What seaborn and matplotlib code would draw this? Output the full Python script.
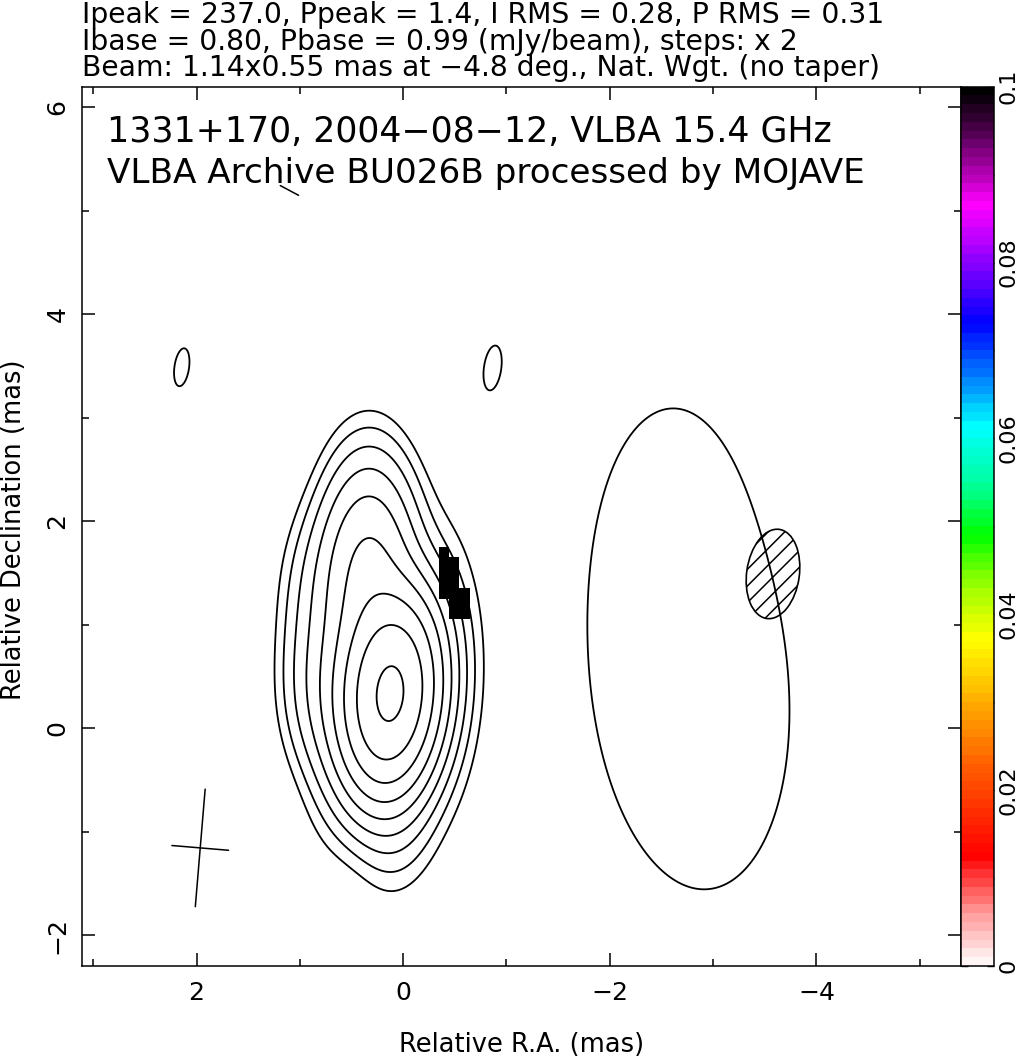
import numpy as np
import matplotlib
matplotlib.use("Agg")
import matplotlib.pyplot as plt
import seaborn as sns
from matplotlib.colors import LinearSegmentedColormap, ListedColormap, Normalize
from matplotlib.cm import ScalarMappable
from matplotlib.patches import Ellipse

## header numbers of the map
source_line = "1331+170, 2004−08−12, VLBA 15.4 GHz"
archive_line = "VLBA Archive BU026B processed by MOJAVE"
i_peak, p_peak, i_rms, p_rms = 237.0, 1.4, 0.28, 0.31
i_base, p_base, step = 0.80, 0.99, 2
n_levels = 9
beam_maj, beam_min, beam_pa = 1.14, 0.55, -4.8
beam_ra, beam_dec = 1.965, -1.158

## stokes I model: gaussian blobs (RA, Dec in mas, peak in mJy/beam, sigma in mas, PA in deg)
comp_ra = [0.12, 0.45, 0.72, 0.33, 0.75, 0.60, 0.05, -0.35, -2.78, -2.62, 2.144, -0.862]
comp_dec = [0.32, 0.40, 0.40, 1.45, 1.30, -0.60, -0.80, 0.60, 0.42, 2.10, 3.488, 3.488]
comp_peak = [229.0, 8.0, 6.0, 30.0, 3.0, 1.0, 2.5, 2.5, 1.25, 0.45, 0.92, 0.85]
comp_sx = [0.234, 0.234, 0.25, 0.25, 0.25, 0.234, 0.234, 0.234, 1.0, 0.45, 0.134, 0.134]
comp_sy = [0.484, 0.484, 0.50, 0.60, 0.50, 0.484, 0.484, 0.80, 2.10, 0.90, 0.35, 0.35]
comp_pa = [-4.8, -4.8, 0.0, 0.0, 0.0, -4.8, -4.8, 0.0, 5.0, 0.0, -8.0, -8.0]

## fractional polarization pixels
nan = np.nan
pol_ra_edges = [-0.345, -0.445, -0.545, -0.645]
pol_dec_edges = [1.05, 1.15, 1.25, 1.35, 1.45, 1.55, 1.65, 1.75]
pol_frac = [[nan, 0.10, 0.10],
            [nan, 0.10, 0.10],
            [0.10, 0.10, 0.10],
            [0.10, 0.10, nan],
            [0.10, 0.10, nan],
            [0.10, 0.10, nan],
            [0.10, nan, nan]]

## EVPA stick and hatched region
evpa_ra = [1.19, 1.013]
evpa_dec = [5.244, 5.15]
hatch_ra, hatch_dec, hatch_w, hatch_h, hatch_ang = -3.58, 1.49, 0.51, 0.87, 8.0

## colour scale of fractional polarization
cb_pos = [0.0, 0.06, 0.12, 0.22, 0.29, 0.37, 0.43, 0.49, 0.55, 0.615, 0.68, 0.735, 0.80, 0.87, 0.92, 0.96, 1.0]
cb_col = ["#fff5f5", "#ff8c8c", "#ff0000", "#ff5a00", "#ffa500", "#ffff00", "#a0ff00", "#00ff00",
          "#00ffa0", "#00ffff", "#006eff", "#0000ff", "#8200ff", "#ff00ff", "#960096", "#460046", "#000000"]
cb_ticks = np.round(np.arange(0, 0.1001, 0.01), 2)

sns.set_style("ticks")
plt.rcParams["font.family"] = ["DejaVu Sans"]
for key in ["text.color", "axes.labelcolor", "xtick.color", "ytick.color", "axes.edgecolor"]:
    plt.rcParams[key] = "black"
plt.rcParams["axes.linewidth"] = 1.1
plt.rcParams["hatch.linewidth"] = 1.1

smooth = LinearSegmentedColormap.from_list("mojave", list(zip(cb_pos, cb_col)))
cmap = ListedColormap(smooth(np.linspace(0, 1, 100)))

# model image on a fine grid
ra = np.linspace(3.2, -5.5, 871)
dec = np.linspace(-2.4, 6.3, 871)
RA, DEC = np.meshgrid(ra, dec)
img = np.zeros_like(RA)
for x0, y0, pk, sx, sy, pa in zip(comp_ra, comp_dec, comp_peak, comp_sx, comp_sy, comp_pa):
    t = np.deg2rad(pa)
    dx, dy = RA - x0, DEC - y0
    along = dx * np.sin(t) + dy * np.cos(t)
    across = dx * np.cos(t) - dy * np.sin(t)
    img += pk * np.exp(-0.5 * ((along / sy) ** 2 + (across / sx) ** 2))
levels = i_base * step ** np.arange(n_levels)

fig = plt.figure(figsize=(10.22, 10.61), dpi=100)
ax = fig.add_axes([0.0802, 0.0895, 0.8601, 0.8288])
cax = fig.add_axes([0.9403, 0.0895, 0.0323, 0.8288])

ax.contour(RA, DEC, img, levels=levels, colors="black", linewidths=1.3)
ax.pcolormesh(pol_ra_edges, pol_dec_edges, np.ma.masked_invalid(np.array(pol_frac)),
              cmap=cmap, vmin=0, vmax=0.1, shading="flat", zorder=3)

# beam cross
t = np.deg2rad(beam_pa)
ax.plot([beam_ra - 0.5 * beam_maj * np.sin(t), beam_ra + 0.5 * beam_maj * np.sin(t)],
        [beam_dec - 0.5 * beam_maj * np.cos(t), beam_dec + 0.5 * beam_maj * np.cos(t)],
        color="black", lw=1.1)
ax.plot([beam_ra - 0.5 * beam_min * np.cos(t), beam_ra + 0.5 * beam_min * np.cos(t)],
        [beam_dec + 0.5 * beam_min * np.sin(t), beam_dec - 0.5 * beam_min * np.sin(t)],
        color="black", lw=1.1)
ax.plot(evpa_ra, evpa_dec, color="black", lw=1.1)
ax.add_patch(Ellipse((hatch_ra, hatch_dec), hatch_w, hatch_h, angle=hatch_ang,
                     fill=False, hatch="//", edgecolor="black", lw=1.2))

ax.set_xlim(3.11, -5.40)
ax.set_ylim(-2.30, 6.20)
ax.set_xticks([2, 0, -2, -4])
ax.set_xticks(np.arange(-5, 4), minor=True)
ax.set_yticks([-2, 0, 2, 4, 6])
ax.set_yticks(np.arange(-2, 7), minor=True)
ax.tick_params(which="both", direction="in", top=True, right=True, width=1.1, labelsize=18)
ax.tick_params(which="major", length=9.5)
ax.tick_params(which="minor", length=5)
ax.tick_params(axis="x", pad=11)
ax.tick_params(axis="y", pad=9)
plt.setp(ax.get_yticklabels(), rotation=90, va="center")

fig.text(0.5102, 1 - 1045 / 1061, "Relative R.A. (mas)", ha="center", va="center", fontsize=18.5)
fig.text(14 / 1022, 1 - 530 / 1061, "Relative Declination (mas)", ha="center", va="center",
         rotation=90, fontsize=18.5)

# header
head = [f"Ipeak = {i_peak:.1f}, Ppeak = {p_peak:.1f}, I RMS = {i_rms:.2f}, P RMS = {p_rms:.2f}",
        f"Ibase = {i_base:.2f}, Pbase = {p_base:.2f} (mJy/beam), steps: x {step}",
        f"Beam: {beam_maj:.2f}x{beam_min:.2f} mas at {beam_pa:.1f} deg., Nat. Wgt. (no taper)".replace("-", "−")]
for k, line in enumerate(head):
    fig.text(0.0802, 0.9783 - k * 0.025, line, fontsize=20.3, va="baseline")
fig.text(0.1044, 0.8664, source_line, fontsize=25, va="baseline")
fig.text(0.1044, 0.8275, archive_line, fontsize=24.7, va="baseline")

# colour bar
cb = fig.colorbar(ScalarMappable(Normalize(0, 0.1), cmap), cax=cax)
cb.outline.set_linewidth(1.1)
cax.yaxis.set_ticks(cb_ticks)
cax.yaxis.set_ticklabels([(f"{v:g}" if k % 2 == 0 else "") for k, v in enumerate(cb_ticks)])
cax.tick_params(axis="y", direction="in", left=True, right=True, length=5, width=1.0,
                labelleft=False, labelright=True, labelsize=16, pad=3.5)
plt.setp(cax.get_yticklabels(), rotation=90, va="center")

fig.savefig("out.png", dpi=100)
